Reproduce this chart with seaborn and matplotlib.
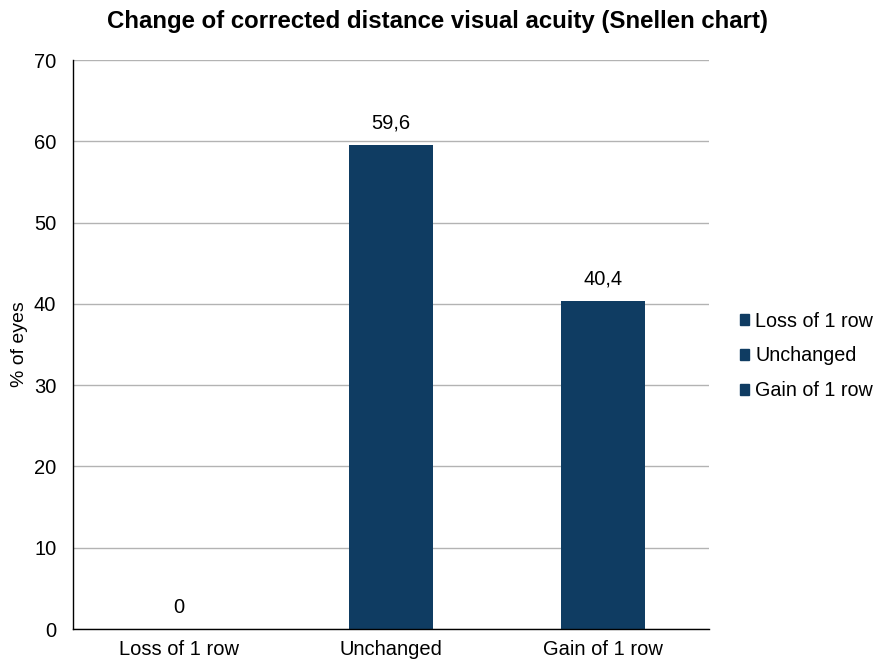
import matplotlib
matplotlib.use("Agg")
import matplotlib.pyplot as plt
import pandas as pd
import seaborn as sns

categories = ["Loss of 1 row", "Unchanged", "Gain of 1 row"]
values = [0, 59.6, 40.4]
value_labels = ["0", "59,6", "40,4"]

BAR_COLOR = "#0f3c62"


def main() -> None:
    sns.set_theme(style="white")
    plt.rcParams["font.family"] = ["Liberation Sans", "DejaVu Sans"]
    plt.rcParams["text.color"] = "black"
    plt.rcParams["axes.labelcolor"] = "black"

    frame = pd.DataFrame({"category": categories, "value": values})

    fig = plt.figure(figsize=(8.75, 6.64), dpi=100)
    ax = fig.add_axes([0.0834, 0.0527, 0.7269, 0.8569])
    sns.barplot(data=frame, x="category", y="value", hue="category",
                palette=[BAR_COLOR] * len(categories), width=0.4,
                saturation=1, linewidth=0, ax=ax, legend=False)

    ax.set_ylim(0, 70)
    ax.set_yticks(range(0, 71, 10))
    ax.yaxis.grid(True, color="#b3b3b3", linewidth=1)
    ax.set_axisbelow(True)
    ax.tick_params(axis="both", length=0, labelsize=14.5, colors="black")
    ax.tick_params(axis="y", pad=12)
    ax.tick_params(axis="x", pad=8)
    ax.set_xlabel("")
    ax.set_ylabel("% of eyes", fontsize=14, labelpad=4)
    for side in ["top", "right"]:
        ax.spines[side].set_visible(False)
    for side in ["left", "bottom"]:
        ax.spines[side].set_color("black")
        ax.spines[side].set_linewidth(1)

    for i, (v, lab) in enumerate(zip(values, value_labels)):
        ax.text(i, v + 1.5, lab, ha="center", va="bottom", fontsize=14.5)

    handles = [plt.Rectangle((0, 0), 1, 1, color=BAR_COLOR) for _ in categories]
    ax.legend(handles, categories, loc="center left", bbox_to_anchor=(1.048, 0.48),
              frameon=False, fontsize=14.2, handlelength=0.5, handleheight=0.5,
              handletextpad=0.3, labelspacing=0.8, borderaxespad=0, borderpad=0)

    fig.suptitle("Change of corrected distance visual acuity (Snellen chart)",
                 fontsize=17.3, fontweight="bold", x=0.5, y=0.985)
    fig.savefig("out.png", dpi=100)
    plt.close(fig)


if __name__ == "__main__":
    main()
